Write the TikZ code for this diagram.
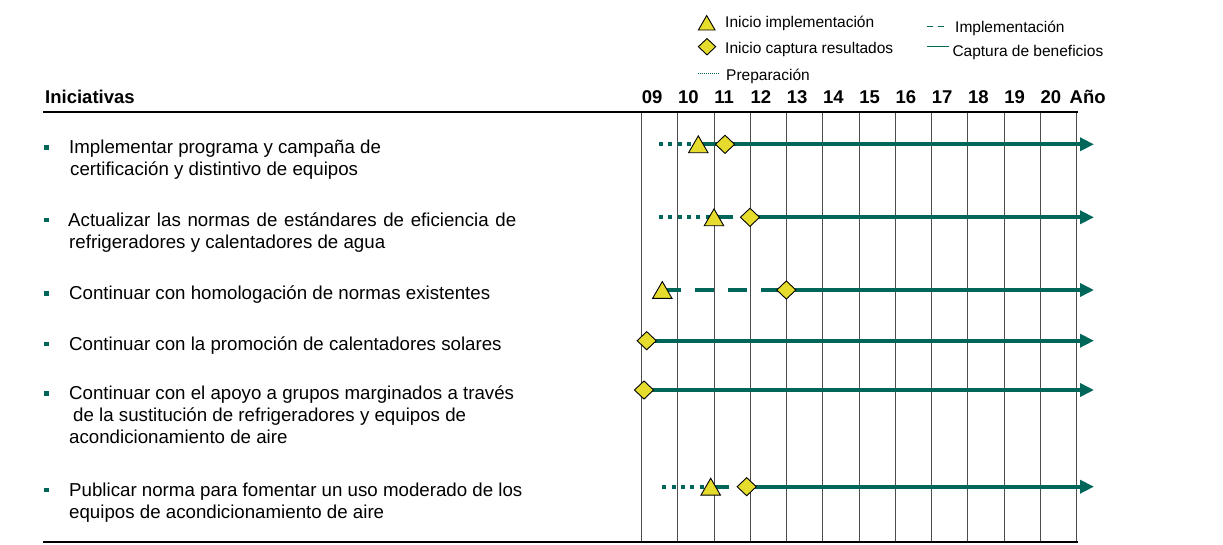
\documentclass[tikz,border=0pt]{standalone}
\usepackage{fontspec}
\setmainfont{Liberation Sans}
\usetikzlibrary{shapes.geometric,arrows.meta}
\definecolor{tealc}{RGB}{0,102,90}
\definecolor{ylw}{RGB}{229,220,45}
\begin{document}
\begin{tikzpicture}[x=1pt,y=-1pt,
  txt/.style={anchor=base west, inner sep=0pt, font=\fontsize{18.7}{22}\selectfont},
  hdr/.style={anchor=base west, inner sep=0pt, font=\fontsize{18.5}{22}\selectfont\bfseries},
  leg/.style={anchor=base west, inner sep=0pt, font=\fontsize{15.5}{18}\selectfont},
  tri/.style={regular polygon, regular polygon sides=3, minimum size=22.5pt, inner sep=0pt, draw=black, line width=0.9pt, fill=ylw, yshift=-2.8pt},
  ltri/.style={tri, minimum size=19.3pt, yshift=-2.4pt},
  dia/.style={diamond, minimum width=19.5pt, minimum height=18.5pt, inner sep=0pt, draw=black, line width=0.9pt, fill=ylw},
  ldia/.style={dia, minimum width=17.7pt, minimum height=16.7pt},
  bul/.style={rectangle, minimum size=4.3pt, inner sep=0pt, fill=tealc},
  prep/.style={tealc, line width=4pt, dash pattern=on 4pt off 5.3pt},
  impl/.style={tealc, line width=4pt, dash pattern=on 18.3pt off 14.7pt},
  capt/.style={tealc, line width=4pt},
  captarr/.style={capt, -{Triangle[length=14pt,width=13pt]}},
  gridln/.style={black!70, line width=1pt},
  hrule/.style={black, line width=2pt}
]
\useasboundingbox (0,0) rectangle (1223,544);

% grid
\foreach \i in {0,...,12}
  \draw[gridln] (641.7+36.25*\i,111.5) -- (641.7+36.25*\i,542);
\draw[hrule] (43,111.5) -- (1077.5,111.5);
\draw[hrule] (43,542) -- (1077.5,542);

% header
\node[hdr] (hini) at (45,103.5) {Iniciativas};
\foreach \lab [count=\i from 0] in {09,10,11,12,13,14,15,16,17,18,19,20}
  \node[hdr] (yr\i) at (641.7+36.25*\i,103.5) {\lab};
\node[hdr] (yano) at (1069.5,103.5) {Año};

% legend
\node[ltri] (lgt) at (706.7,20) {};
\node[leg] (lgtt) at (725,27) {Inicio implementación};
\node[ldia] (lgd) at (707,46.7) {};
\node[leg] (lgdt) at (725,53) {Inicio captura resultados};
\coordinate (lgp1) at (698.3,73.3);
\coordinate (lgp2) at (720,73.3);
\draw[tealc, line width=1.2pt, dash pattern=on 1pt off 1pt] (lgp1) -- (lgp2);
\node[leg] (lgpt) at (726,80) {Preparación};
\coordinate (lgi1) at (927.3,26.5);
\coordinate (lgi2) at (945,26.5);
\draw[tealc, line width=1.5pt, dash pattern=on 6pt off 5pt] (lgi1) -- (lgi2);
\node[leg] (lgit) at (955,32) {Implementación};
\coordinate (lgc1) at (927.3,46.7);
\coordinate (lgc2) at (949.3,46.7);
\draw[tealc, line width=1.5pt] (lgc1) -- (lgc2);
\node[leg] (lgct) at (952.3,56.5) {Captura de beneficios};

% row texts
\node[bul] (b1) at (46.5,147.5) {};
\node[txt] (r1a) at (69,153.5) {Implementar programa y campaña de};
\node[txt] (r1b) at (70,175.5) {certificación y distintivo de equipos};
\node[bul] (b2) at (46.5,220) {};
\node[txt] (r2a) at (68,226) {\spaceskip=6.7pt plus 1pt Actualizar las normas de estándares de eficiencia de};
\node[txt] (r2b) at (69,248) {refrigeradores y calentadores de agua};
\node[bul] (b3) at (46.5,293.5) {};
\node[txt] (r3a) at (69,299.5) {Continuar con homologación de normas existentes};
\node[bul] (b4) at (46.5,344) {};
\node[txt] (r4a) at (69,350) {Continuar con la promoción de calentadores solares};
\node[bul] (b5) at (46.5,393.5) {};
\node[txt] (r5a) at (69,399.5) {Continuar con el apoyo a grupos marginados a través};
\node[txt] (r5b) at (73,421.5) {de la sustitución de refrigeradores y equipos de};
\node[txt] (r5c) at (69,443.5) {acondicionamiento de aire};
\node[bul] (b6) at (46.5,490) {};
\node[txt] (r6a) at (69,496) {Publicar norma para fomentar un uso moderado de los};
\node[txt] (r6b) at (69,518) {equipos de acondicionamiento de aire};

% row 1
\coordinate (s1) at (659,144.3);
\coordinate (t1) at (698.3,144.3);
\coordinate (d1) at (725,144.3);
\coordinate (e1) at (1094,144.3);
\draw[prep] (s1) -- (t1);
\draw[capt] (t1) -- (d1);
\draw[captarr] (d1) -- (e1);
\node[tri] (T1) at (t1) {};
\node[dia] (D1) at (d1) {};

% row 2
\coordinate (s2) at (659,217.3);
\coordinate (t2) at (714,217.3);
\coordinate (g2) at (732.7,217.3);
\coordinate (d2) at (750,217.3);
\coordinate (e2) at (1094,217.3);
\draw[prep] (s2) -- (t2);
\draw[capt] (t2) -- (g2);
\draw[captarr] (d2) -- (e2);
\node[tri] (T2) at (t2) {};
\node[dia] (D2) at (d2) {};

% row 3
\coordinate (t3) at (662.3,290);
\coordinate (d3) at (786.3,290);
\coordinate (e3) at (1094,290);
\draw[impl] (t3) -- (d3);
\draw[captarr] (d3) -- (e3);
\node[tri] (T3) at (t3) {};
\node[dia] (D3) at (d3) {};

% row 4
\coordinate (d4) at (646.7,340.7);
\coordinate (e4) at (1094,340.7);
\draw[captarr] (d4) -- (e4);
\node[dia] (D4) at (d4) {};

% row 5
\coordinate (d5) at (644,390);
\coordinate (e5) at (1094,390);
\draw[captarr] (d5) -- (e5);
\node[dia] (D5) at (d5) {};

% row 6
\coordinate (s6) at (662.3,486.7);
\coordinate (t6) at (710.7,486.7);
\coordinate (g6) at (729.3,486.7);
\coordinate (d6) at (746.7,486.7);
\coordinate (e6) at (1094,486.7);
\draw[prep] (s6) -- (t6);
\draw[capt] (t6) -- (g6);
\draw[captarr] (d6) -- (e6);
\node[tri] (T6) at (t6) {};
\node[dia] (D6) at (d6) {};
\end{tikzpicture}
\end{document}
